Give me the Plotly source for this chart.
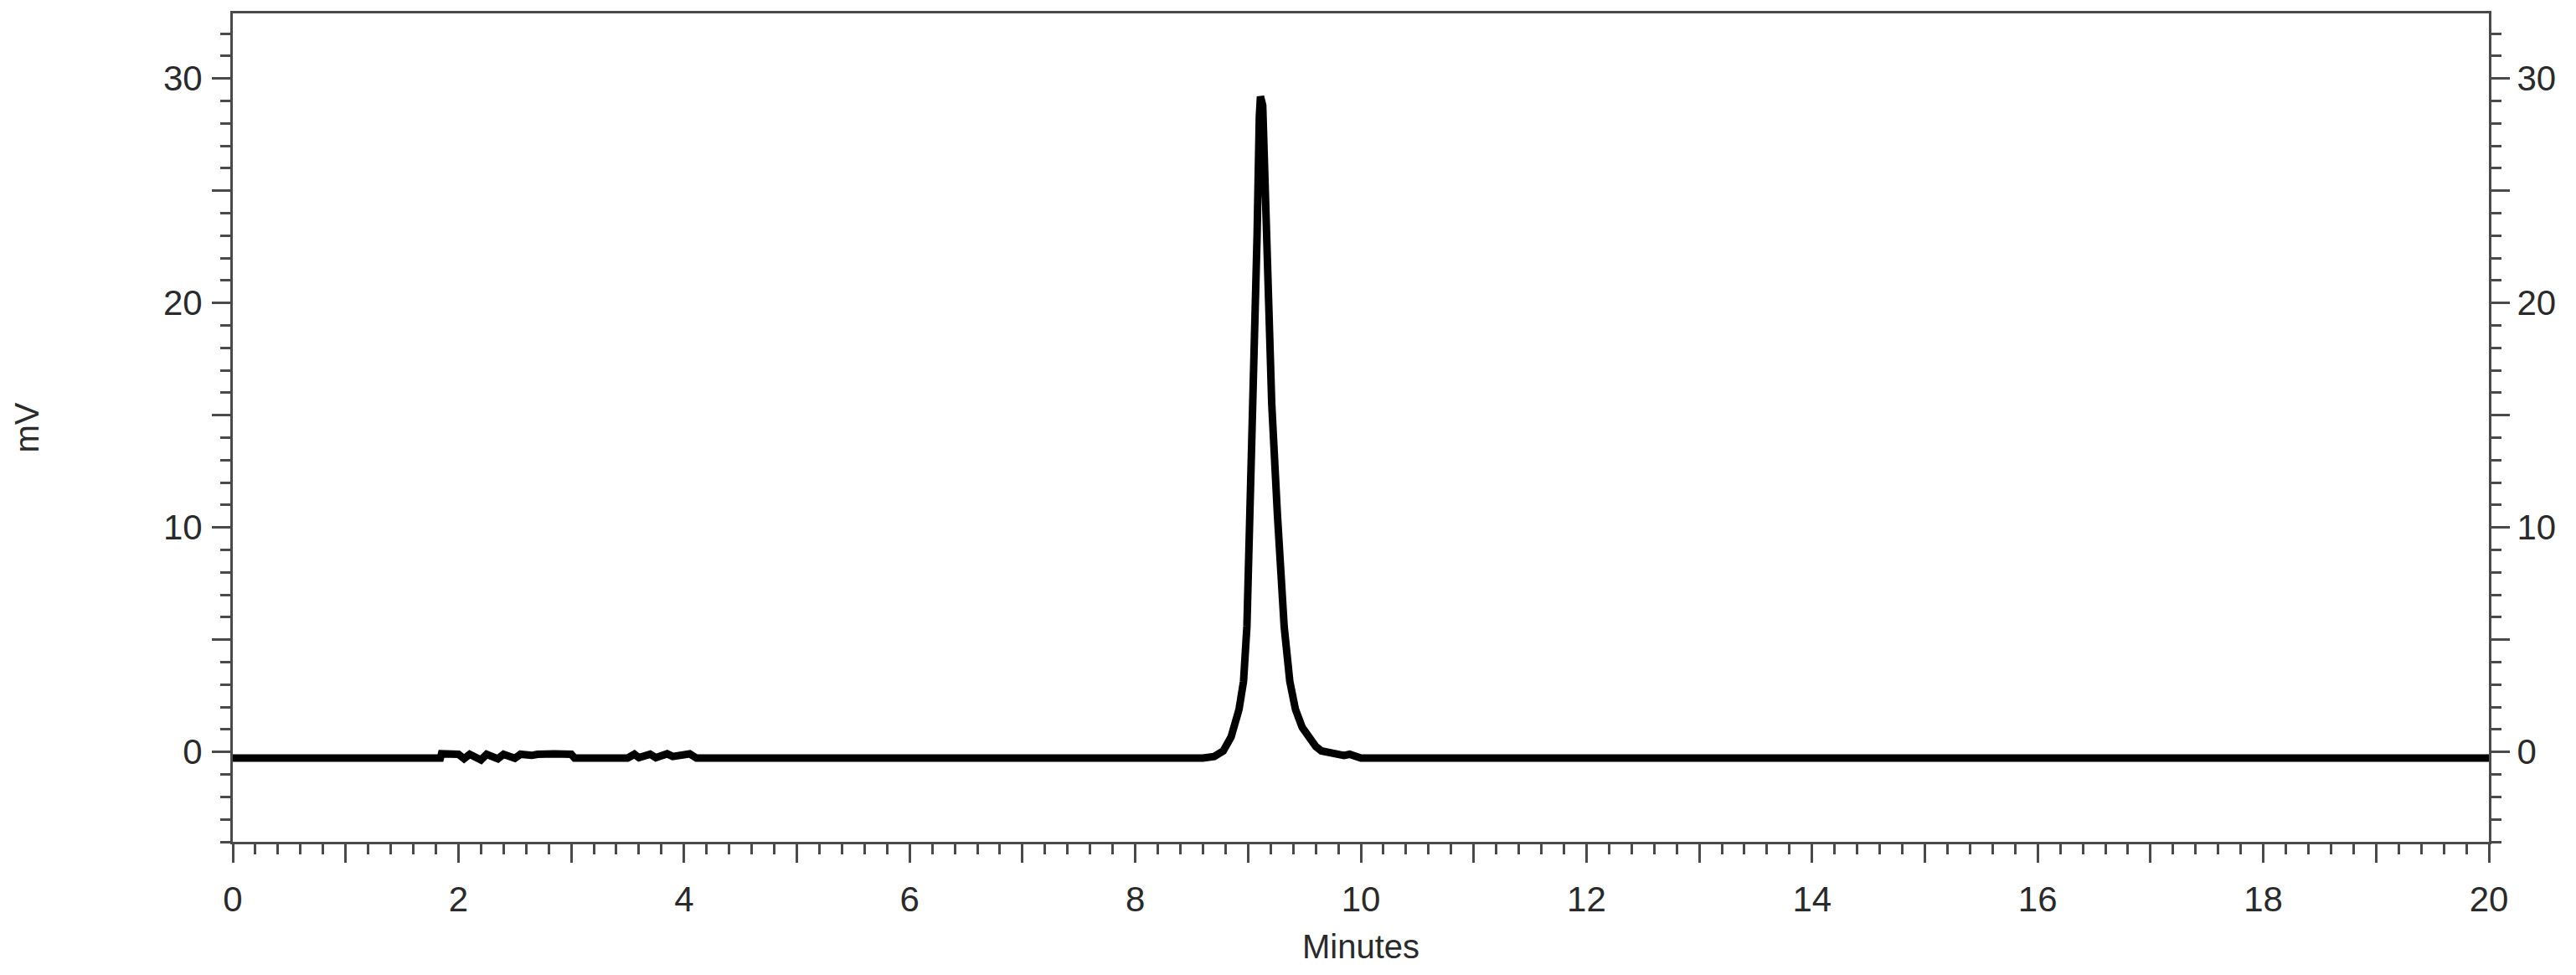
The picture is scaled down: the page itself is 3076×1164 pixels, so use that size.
import plotly.graph_objects as go

# Chromatogram trace (minutes, mV)
time_min = [0.0, 1.84, 1.85, 2.0, 2.05, 2.1, 2.2, 2.25, 2.35, 2.4, 2.5, 2.55, 2.65, 2.7,
            2.85, 3.0, 3.03, 3.04, 3.5, 3.56, 3.6, 3.7, 3.75, 3.85, 3.9, 4.05, 4.1, 4.11,
            8.6, 8.70, 8.78, 8.85, 8.92, 8.96, 8.99, 9.02, 9.05, 9.08, 9.10, 9.11, 9.13,
            9.16, 9.21, 9.26, 9.32, 9.37, 9.42, 9.48, 9.54, 9.60, 9.65, 9.76, 9.85, 9.90,
            10.0, 20.0]
signal_mv = [-0.27, -0.27, -0.08, -0.1, -0.3, -0.1, -0.35, -0.1, -0.3, -0.1, -0.28, -0.1, -0.15, -0.1,
             -0.08, -0.1, -0.27, -0.27, -0.27, -0.1, -0.25, -0.1, -0.25, -0.08, -0.2, -0.08, -0.27, -0.27,
             -0.27, -0.2, 0.05, 0.67, 1.9, 3.15, 5.6, 10.6, 15.5, 23.0, 28.3, 29.2, 28.8,
             23.5, 15.5, 10.6, 5.6, 3.15, 1.9, 1.1, 0.6, 0.25, 0.05, -0.1, -0.15, -0.1,
             -0.27, -0.27]

x_tickvals = list(range(0, 21))
x_ticktext = [str(v) if v % 2 == 0 else "" for v in x_tickvals]
y_tickvals = [0, 5, 10, 15, 20, 25, 30]
y_ticktext = ["0", "", "10", "", "20", "", "30"]

x_range = [0, 20]
y_range = [-4, 32.9]

FONT = "Liberation Sans, Arial, Helvetica, sans-serif"
AX = "#4a4a4a"
TXT = "#2a2a2a"

fig = go.Figure()
fig.add_trace(go.Scatter(x=time_min, y=signal_mv, mode="lines",
                         line=dict(color="black", width=9), showlegend=False,
                         hoverinfo="x+y"))
fig.add_trace(go.Scatter(x=[None], y=[None], yaxis="y2", mode="lines",
                         showlegend=False, hoverinfo="skip"))

axis_common = dict(showgrid=False, zeroline=False, showline=True, linecolor=AX,
                   linewidth=3, ticks="outside", tickcolor=AX, tickwidth=3, ticklen=22,
                   tickfont=dict(family=FONT, size=42, color=TXT))

fig.update_layout(
    width=3068, height=1156,
    margin=dict(l=270, r=104, t=5, b=159),
    paper_bgcolor="white", plot_bgcolor="white",
    xaxis=dict(range=x_range, tickmode="array", tickvals=x_tickvals, ticktext=x_ticktext,
               mirror=True, ticklabelstandoff=8,
               minor=dict(ticks="outside", tick0=0, dtick=0.2, ticklen=12, tickwidth=3,
                          tickcolor=AX),
               title=dict(text="Minutes", font=dict(family=FONT, size=40, color=TXT),
                          standoff=20),
               **axis_common),
    yaxis=dict(range=y_range, tickmode="array", tickvals=y_tickvals, ticktext=y_ticktext,
               ticklabelstandoff=3,
               minor=dict(ticks="outside", tick0=0, dtick=1, ticklen=12, tickwidth=3,
                          tickcolor=AX),
               title=dict(text="mV", font=dict(family=FONT, size=40, color=TXT),
                          standoff=136),
               **axis_common),
    yaxis2=dict(range=y_range, overlaying="y", side="right", tickmode="array",
                tickvals=y_tickvals, ticktext=y_ticktext, ticklabelstandoff=0,
                minor=dict(ticks="outside", tick0=0, dtick=1, ticklen=12, tickwidth=3,
                           tickcolor=AX),
                **axis_common),
)

fig.write_html("out.html")
